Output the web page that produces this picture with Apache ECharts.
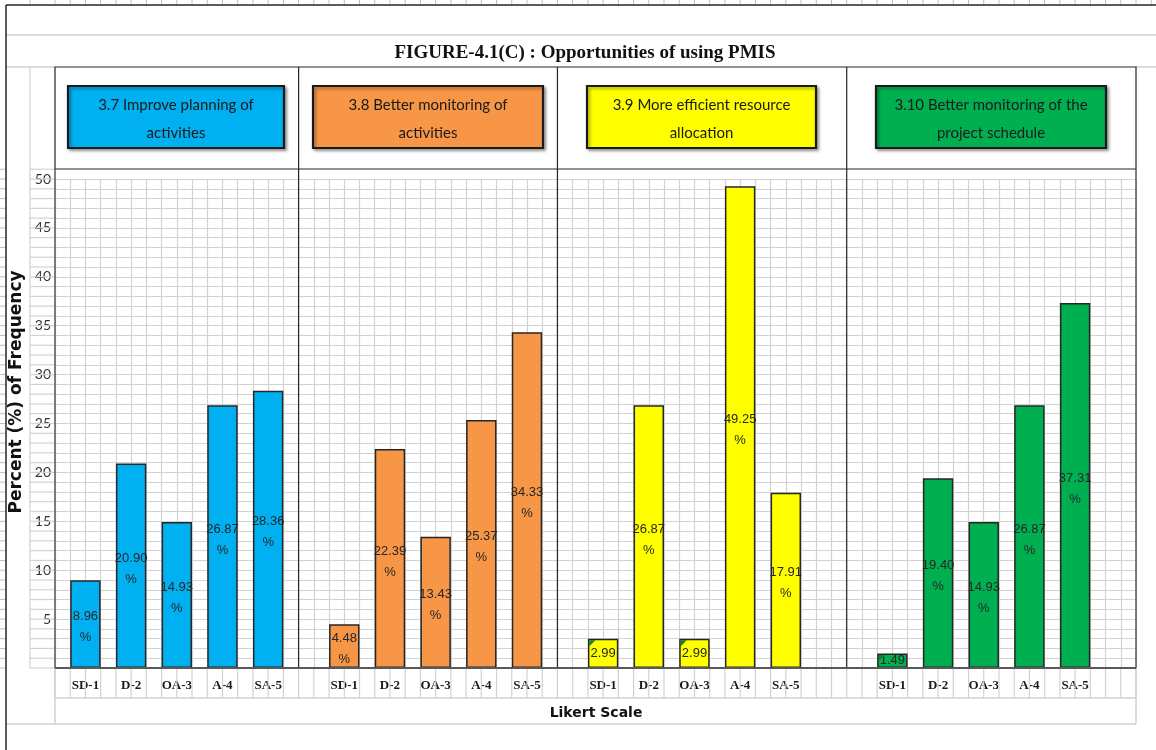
<!DOCTYPE html>
<html>
<head>
<meta charset="utf-8">
<script src="https://cdn.jsdelivr.net/npm/echarts@6/dist/echarts.min.js"></script>
<style>
  html, body { margin: 0; padding: 0; background: #ffffff; }
  #chart { width: 1156px; height: 750px; }
</style>
</head>
<body>
<div id="chart"></div>
<script>
// ---- data ----
const chartTitle = 'FIGURE-4.1(C) : Opportunities of using PMIS';
const yAxisTitle = 'Percent (%) of Frequency';
const xAxisTitle = 'Likert Scale';
const categories = ['SD-1', 'D-2', 'OA-3', 'A-4', 'SA-5'];
const panelTitles = [
  '3.7 Improve planning of\nactivities',
  '3.8 Better monitoring of\nactivities',
  '3.9 More efficient resource\nallocation',
  '3.10 Better monitoring of the\nproject schedule'
];
const improvePlanning    = [8.96, 20.90, 14.93, 26.87, 28.36];
const betterMonitoring   = [4.48, 22.39, 13.43, 25.37, 34.33];
const resourceAllocation = [2.99, 26.87, 2.99, 49.25, 17.91];
const scheduleMonitoring = [1.49, 19.40, 14.93, 26.87, 37.31];
const yMax = 50;
const yStep = 5;

const panelValues = [improvePlanning, betterMonitoring, resourceAllocation, scheduleMonitoring];
const panelColors = ['#00B0F0', '#F79646', '#FFFF00', '#00B050'];

// ---- sheet layout ----
const W = 1156, H = 750;
const L = 55, R = 1136;            // plot left / right edge
const PLOT_TOP = 179, BASE = 668;  // value 50 / value 0
const HEAD_TOP = 67, HEAD_BOT = 169;
const COLS = 71;
const cw = (R - L) / COLS;         // sheet column width
const unit = (BASE - PLOT_TOP) / yMax;
const panelStartCol = [0, 16, 33, 52, 71];
const barOffsetCol = [1, 2, 2, 2];
const headBoxes = [[68, 284], [313, 543], [587, 816], [876, 1106]];
const SHORT_BAR = 4;               // below this the label has no room for the % line

const gridColor = '#d2d2d2';
const frameDark = '#595959';

const grids = [], xAxes = [], yAxes = [], series = [];

for (let i = 0; i < 4; i++) {
  const left = L + (panelStartCol[i] + barOffsetCol[i] - 0.5) * cw;
  grids.push({ left: left, width: 15 * cw, top: PLOT_TOP, bottom: H - BASE });
  xAxes.push({
    type: 'category', gridIndex: i, data: categories,
    axisLine: { show: false }, axisTick: { show: false }, splitLine: { show: false },
    axisLabel: {
      margin: 11, color: '#1a1a1a', fontFamily: 'Liberation Serif', fontWeight: 'bold', fontSize: 13
    }
  });
  yAxes.push({ type: 'value', gridIndex: i, min: 0, max: yMax, show: false });
  series.push({
    type: 'bar', xAxisIndex: i, yAxisIndex: i,
    data: panelValues[i].map(v => ({
      value: v,
      label: { offset: [0, v >= SHORT_BAR ? 3 : 0] }
    })),
    barWidth: 2 * cw,
    itemStyle: { color: panelColors[i], borderColor: '#262626', borderWidth: 1.5 },
    label: {
      show: true, position: 'inside',
      fontFamily: 'Liberation Sans Narrow, Liberation Sans, Arial', fontSize: 13, lineHeight: 21,
      color: '#262626', textBorderWidth: 0, textBorderColor: 'transparent',
      formatter: p => p.value >= SHORT_BAR ? p.value.toFixed(2) + '\n%' : p.value.toFixed(2)
    },
    z: 3
  });
}

// sheet cells behind the plot, plus the value labels
grids.push({ left: L, right: W - R, top: PLOT_TOP, bottom: H - BASE });
xAxes.push({
  type: 'value', gridIndex: 4, min: 0, max: COLS, interval: 1,
  axisLine: { show: false }, axisTick: { show: false }, axisLabel: { show: false },
  splitLine: { show: true, lineStyle: { color: gridColor, width: 1.2 } }
});
yAxes.push({
  type: 'value', gridIndex: 4, min: 0, max: yMax, interval: yStep,
  axisLine: { show: false }, axisTick: { show: false },
  axisLabel: {
    margin: 4, color: '#333333', fontFamily: 'Lato', fontSize: 14,
    formatter: v => v === 0 ? '' : String(v)
  },
  splitLine: { show: true, lineStyle: { color: gridColor, width: 1.2 } },
  minorTick: { show: false, splitNumber: yStep },
  minorSplitLine: { show: true, lineStyle: { color: gridColor, width: 1.2 } }
});

// ---- decorations ----
function line(x1, y1, x2, y2, color, width, z) {
  return { type: 'line', shape: { x1, y1, x2, y2 }, style: { stroke: color, lineWidth: width }, z: z || 1, silent: true };
}
const g = [];
// sheet lines outside the plot
g.push(line(6, 35, W, 35, gridColor, 1.5));
g.push(line(6, HEAD_TOP, L, HEAD_TOP, gridColor, 1.5));
g.push(line(R, HEAD_TOP, W, HEAD_TOP, gridColor, 1.5));
g.push(line(30, HEAD_TOP, 30, BASE, gridColor, 1.2));
for (let k = 0; k <= yMax + 1; k++) {
  const y = BASE - k * unit;
  g.push(line(30, y, L, y, gridColor, 1.2));
  g.push(line(0, y, 6, y, '#bfbfbf', 1));
}
g.push(line(30, 0, 30, 5, '#bfbfbf', 1));
for (let c = 0; c <= COLS + 1; c++) {
  const x = L + c * cw;
  g.push(line(x, 0, x, 5, '#bfbfbf', 1));
  if (c <= COLS) g.push(line(x, BASE, x, 698, gridColor, 1.2));
}
g.push(line(L, 698, R, 698, gridColor, 1.5));
g.push(line(6, 724, R, 724, gridColor, 1.5));
g.push(line(L, BASE, L, 724, gridColor, 1.5));
g.push(line(R, BASE, R, 724, gridColor, 1.5));
// outer border
g.push(line(6, 5, W, 5, '#262626', 1.5, 5));
g.push(line(6, 5, 6, H, '#262626', 1.5, 5));
// header frame
g.push({ type: 'rect', shape: { x: L, y: HEAD_TOP, width: R - L, height: HEAD_BOT - HEAD_TOP },
  style: { fill: '#ffffff', stroke: '#262626', lineWidth: 1.2 }, z: 2, silent: true });
// panel dividers
for (let i = 1; i < 4; i++) {
  const x = L + panelStartCol[i] * cw;
  g.push(line(x, HEAD_TOP, x, BASE, '#262626', 1.2, 4));
}
// plot frame
g.push(line(L, HEAD_BOT, L, BASE, frameDark, 1.5, 6));
g.push(line(R, HEAD_BOT, R, BASE, frameDark, 1.5, 6));
g.push(line(L, BASE, R, BASE, frameDark, 2, 6));
// panel headers
headBoxes.forEach((b, i) => {
  g.push({ type: 'rect', shape: { x: b[0], y: 86, width: b[1] - b[0], height: 62 },
    style: { fill: panelColors[i], stroke: '#1a1a1a', lineWidth: 2.2,
      shadowBlur: 3, shadowOffsetX: 2, shadowOffsetY: 2, shadowColor: 'rgba(0,0,0,0.35)' },
    z: 6, silent: true });
  g.push({ type: 'text', x: (b[0] + b[1]) / 2, y: 119, z: 7, silent: true,
    style: { text: panelTitles[i], fill: '#1a1a1a', font: '15px Lato', lineHeight: 28,
      align: 'center', verticalAlign: 'middle' } });
});
// titles
g.push({ type: 'text', x: 585, y: 53, z: 7, silent: true,
  style: { text: chartTitle, fill: '#111111', font: 'bold 19px "Liberation Serif"',
    align: 'center', verticalAlign: 'middle' } });
g.push({ type: 'text', x: 17, y: 392, rotation: Math.PI / 2, z: 7, silent: true,
  style: { text: yAxisTitle, fill: '#111111', font: 'bold 17px "DejaVu Sans"',
    align: 'center', verticalAlign: 'middle' } });
g.push({ type: 'text', x: 596, y: 713, z: 7, silent: true,
  style: { text: xAxisTitle, fill: '#111111', font: 'bold 14px "DejaVu Sans"',
    align: 'center', verticalAlign: 'middle' } });

const chart = echarts.init(document.getElementById('chart'), null, { renderer: 'canvas' });
chart.setOption({
  backgroundColor: '#ffffff',
  animation: false,
  grid: grids,
  xAxis: xAxes,
  yAxis: yAxes,
  series: series,
  graphic: g
});

// cell markers on the short bars whose labels carry no percent sign
const marks = [];
panelValues.forEach((vals, i) => {
  vals.forEach((v, j) => {
    if (v >= SHORT_BAR) return;
    const p = chart.convertToPixel({ seriesIndex: i }, [j, v]);
    const x0 = p[0] - cw + 1.5, y0 = p[1] + 1.5;
    marks.push({ type: 'polygon', z: 8, silent: true,
      shape: { points: [[x0, y0], [x0 + 6, y0], [x0, y0 + 6]] },
      style: { fill: '#1d7a33' } });
  });
});
chart.setOption({ graphic: g.concat(marks) });
</script>
</body>
</html>
